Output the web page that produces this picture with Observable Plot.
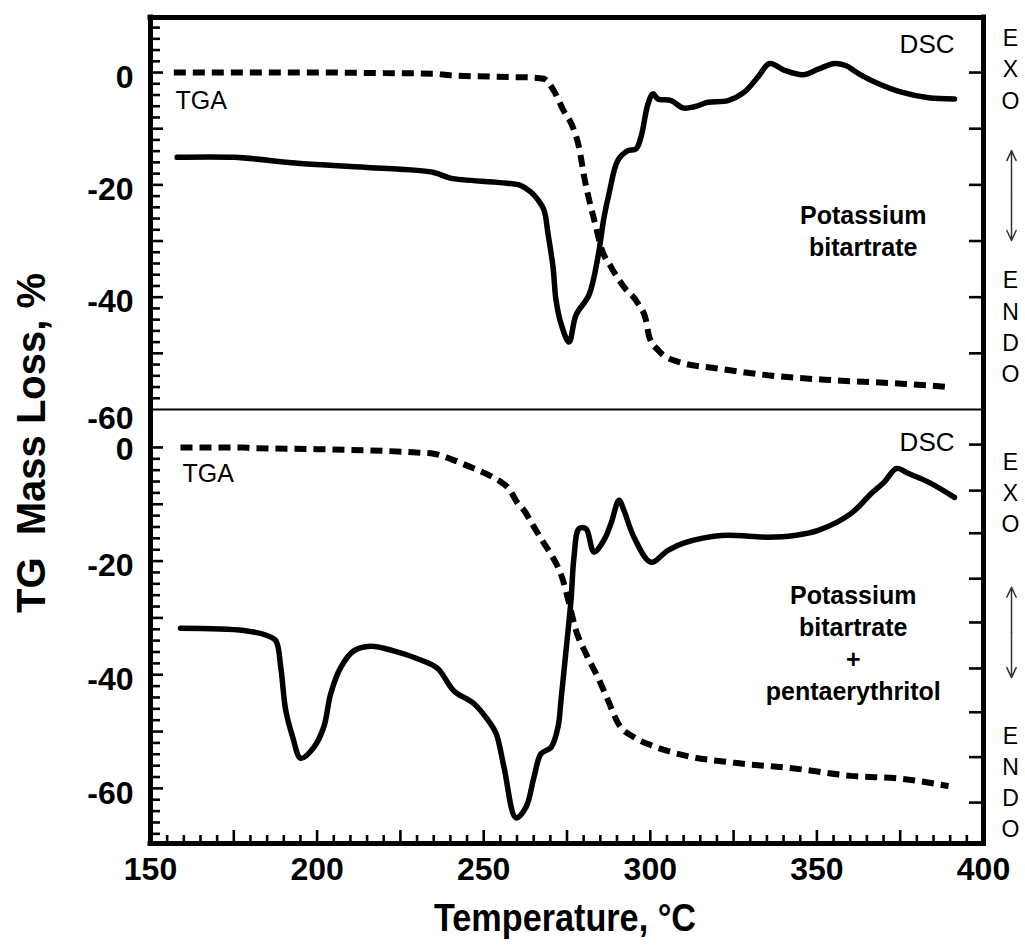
<!DOCTYPE html>
<html>
<head>
<meta charset="utf-8">
<script src="https://cdn.jsdelivr.net/npm/d3@7"></script>
<script src="https://cdn.jsdelivr.net/npm/@observablehq/plot@0.6"></script>
<style>
  html, body { margin: 0; padding: 0; background: #fff; overflow: hidden; }
  #wrap { position: relative; width: 1025px; height: 952px; font-family: 'Liberation Sans', Arial, Helvetica, sans-serif; color: #000; }
  #wrap svg { display: block; }
  #ylab { position: absolute; left: 31px; top: 443px; transform: translate(-50%, -50%) rotate(-90deg);
          font-size: 40px; font-weight: bold; line-height: 40px; white-space: pre; }
  #xlab { position: absolute; left: 565px; top: 898px; transform: translateX(-50%) scaleX(0.9);
          font-size: 38px; font-weight: bold; line-height: 40px; white-space: pre; }
</style>
</head>
<body>
<div id="wrap">
  <div id="top"></div>
  <div id="bot"></div>
  <div id="ylab">TG  Mass Loss, %</div>
  <div id="xlab">Temperature, °C</div>
</div>
<script>
// ---------- data ----------
const xDomain = [150, 400];
const topDomain = [-60, 9.8];
const botDomain = [-69.7, 6.5];

// Top panel: Potassium bitartrate
const topTgaT = [157, 180, 200, 220, 235, 240, 258, 265, 268, 271, 274, 276.8, 278.6, 280.2, 281.7, 283.7, 285.2, 288.2, 292.1, 296.3, 298.7, 299.7, 302.3, 308.3, 320.3, 335.3, 355.3, 375.4, 390];
const topTgaV = [0, 0, 0, -0.1, -0.2, -0.5, -0.8, -0.9, -1.1, -3.2, -6.8, -9.8, -13.3, -18.7, -22.8, -27.5, -31.1, -34.6, -38.2, -41.1, -44.1, -47.1, -49.4, -51.5, -52.7, -53.9, -54.8, -55.4, -56];

const topDscT = [158, 175, 195, 215, 235, 240, 255, 261, 264, 266.2, 268.1, 269.3, 270.8, 271.7, 273.2, 275.6, 277.7, 281.6, 284.3, 286.1, 287.6, 290.3, 293.3, 295.7, 297.2, 299.3, 300.8, 302.3, 306.3, 309.8, 313.2, 317.3, 323.3, 328.2, 332.3, 335.8, 340.3, 345.9, 350.4, 355.3, 358.4, 363.4, 368.5, 375.4, 383.5, 391.3];
const topDscV = [-15.1, -15.1, -16.2, -16.9, -17.8, -18.8, -19.6, -20.1, -21.2, -22.6, -24.5, -28.7, -34.6, -40.5, -44.7, -48, -43.2, -39.6, -32.8, -25.8, -21.6, -15.6, -13.9, -13.6, -11.5, -5.6, -3.8, -4.7, -5, -6.3, -6.1, -5.3, -5, -3.5, -0.8, 1.6, 0.4, -0.4, 0.6, 1.6, 1.3, -0.5, -2, -3.5, -4.5, -4.7];

// Bottom panel: Potassium bitartrate + pentaerythritol
const botTgaT = [159, 178, 180, 200, 230, 235, 240, 245, 252, 255, 257.5, 260.3, 262, 265, 268, 270.2, 273.8, 275.6, 277.7, 280.7, 284.3, 287.3, 290.3, 295.1, 300.2, 310.2, 325.2, 343.2, 360.3, 375.4, 389.5];
const botTgaV = [0, 0, -0.1, -0.3, -0.9, -1.1, -2, -3.2, -5, -6, -7.2, -9.9, -11, -13.9, -16.8, -18.8, -23.4, -27.4, -32.2, -36.3, -40.5, -44.5, -48.5, -51, -52.4, -54.2, -55.5, -56.5, -57.8, -58.3, -59.6];

const botDscT = [159, 178, 185, 187.6, 189.1, 190.6, 192.7, 195.1, 199, 202, 204.1, 207.1, 211, 216.1, 223, 231.1, 236.2, 241, 247.1, 251.3, 253.7, 256.1, 259.7, 262.7, 265.1, 267.2, 270.2, 272.3, 273.2, 274.7, 276.2, 277.1, 278.6, 280.7, 283.1, 286.1, 288.2, 290.6, 292.1, 295.1, 300.2, 305.3, 310.2, 321.3, 335.3, 343.2, 350.4, 360.3, 366.3, 370.2, 373.9, 377.5, 383.5, 391.3];
const botDscV = [-31.8, -32.2, -33.1, -34, -38.7, -46.3, -51, -54.7, -52.8, -49.2, -43.3, -38.7, -35.8, -35, -35.8, -37.4, -38.9, -42.8, -45.1, -48, -50.3, -56.3, -65.2, -63.3, -58, -53.9, -52.8, -49.2, -44.5, -35.8, -26.9, -19.3, -14.3, -14.3, -18.4, -16.3, -13.4, -9.3, -11.1, -15.8, -20.2, -18.1, -16.8, -15.5, -15.8, -15.5, -14.6, -11.6, -8.1, -6.1, -3.7, -4.6, -6.1, -8.8];

// Tick labels / tick positions
const xLabels = [150, 200, 250, 300, 350, 400];
const xMajor = [175, 200, 225, 250, 275, 300, 325, 350, 375];
const topYLabels = [0, -20, -40];
const topYLabelLow = [-60];
const botYLabels = [-20, -40, -60];
const botYLabelHigh = [0];
const topMajorY = [0, -10, -20, -30, -40, -50];
const botMajorY = [0, -10, -20, -30, -40, -50, -60];
const topRightTicks = [0, -10, -20, -30, -40, -50];
const botRightTicks = [0.5, -7.6, -15.1, -23.1, -30.8, -38.9, -46.6, -54.5, -62.5];

// ---------- build ----------
const zip = (T, V) => T.map((t, i) => ({T: t, v: V[i]}));
const topTga = zip(topTgaT, topTgaV);
const topDsc = zip(topDscT, topDscV);
const botTga = zip(botTgaT, botTgaV);
const botDsc = zip(botDscT, botDscV);

const xMinor = d3.range(155, 400, 5).filter(v => v % 25 !== 0);
const topMinorY = d3.range(8, -60, -2).filter(v => v % 10 !== 0);
const botMinorY = d3.range(0, -70, -2).filter(v => v % 10 !== 0);

const hyphen = d => String(d); // reference uses a plain hyphen for negatives
const font = "'Liberation Sans', Arial, Helvetica, sans-serif";
const style = {fontFamily: font, background: "white", color: "black", overflow: "visible"};
const tgaStyle = {x: "T", y: "v", stroke: "black", strokeWidth: 6, strokeDasharray: "12,7", strokeLinecap: "butt", strokeLinejoin: "miter", curve: "monotone-x"};
const dscStyle = {x: "T", y: "v", stroke: "black", strokeWidth: 5.5, strokeLinejoin: "round", strokeLinecap: "round", curve: "catmull-rom"};
const tickStyle = {fill: "none", label: null, strokeWidth: 2.6};
const labelStyle = {tickSize: 0, tickPadding: 17, fontSize: 32, fontWeight: "bold", label: null, tickFormat: hyphen};
const letters = (y) => Plot.text(["E\nX\nO"], {x: xDomain[1], y, dx: 27, text: d => d, fontSize: 23, lineHeight: 1.36});
const lettersEndo = (y) => Plot.text(["E\nN\nD\nO"], {x: xDomain[1], y, dx: 27, text: d => d, fontSize: 23, lineHeight: 1.36});
const dblArrow = (yTop, yBot) => {
  const mid = (yTop + yBot) / 2;
  const o = {x1: xDomain[1], x2: xDomain[1], dx: 28, stroke: "#333", strokeWidth: 1.5, headLength: 11, headAngle: 50};
  return [
    Plot.arrow([0], {...o, y1: mid, y2: yTop}),
    Plot.arrow([0], {...o, y1: mid, y2: yBot})
  ];
};

const topPlot = Plot.plot({
  width: 1025, height: 410,
  marginLeft: 150, marginRight: 42, marginTop: 17, marginBottom: 1,
  style,
  x: {domain: xDomain, axis: null},
  y: {domain: topDomain, label: null},
  marks: [
    Plot.line(topTga, tgaStyle),
    Plot.line(topDsc, dscStyle),
    Plot.axisY({anchor: "left", ticks: topMinorY, tickSize: -10, ...tickStyle}),
    Plot.axisY({anchor: "left", ticks: topMajorY, tickSize: -13, ...tickStyle}),
    Plot.axisY({anchor: "right", ticks: topRightTicks, tickSize: -15, ...tickStyle}),
    Plot.axisY({anchor: "left", ticks: topYLabels, ...labelStyle, dy: 5}),
    Plot.axisY({anchor: "left", ticks: topYLabelLow, ...labelStyle, dy: 9}),
    Plot.ruleX(xDomain, {strokeWidth: 5, strokeLinecap: "square"}),
    Plot.ruleY([topDomain[1]], {strokeWidth: 5, strokeLinecap: "square"}),
    Plot.ruleY([topDomain[0]], {strokeWidth: 2}),
    Plot.text(["TGA"], {x: 157.5, y: -5.1, text: d => d, textAnchor: "start", fontSize: 25}),
    Plot.text(["DSC"], {x: 391.3, y: 5.0, text: d => d, textAnchor: "end", fontSize: 26}),
    Plot.text(["Potassium\nbitartrate"], {x: 363.9, y: -28, text: d => d, fontSize: 25, fontWeight: "bold", lineHeight: 1.28}),
    letters(0.9),
    lettersEndo(-45),
    ...dblArrow(-13.9, -29.9)
  ]
});

const botPlot = Plot.plot({
  width: 1025, height: 485,
  marginLeft: 150, marginRight: 42, marginTop: 0, marginBottom: 52,
  style,
  x: {domain: xDomain, label: null},
  y: {domain: botDomain, label: null},
  marks: [
    Plot.line(botTga, tgaStyle),
    Plot.line(botDsc, dscStyle),
    Plot.axisY({anchor: "left", ticks: botMinorY, tickSize: -10, ...tickStyle}),
    Plot.axisY({anchor: "left", ticks: botMajorY, tickSize: -13, ...tickStyle}),
    Plot.axisY({anchor: "right", ticks: botRightTicks, tickSize: -15, ...tickStyle}),
    Plot.axisY({anchor: "left", ticks: botYLabels, ...labelStyle, dy: 5}),
    Plot.axisY({anchor: "left", ticks: botYLabelHigh, ...labelStyle, dy: 2}),
    Plot.axisX({anchor: "bottom", ticks: xMinor, tickSize: -8, ...tickStyle}),
    Plot.axisX({anchor: "bottom", ticks: xMajor, tickSize: -13, ...tickStyle}),
    Plot.axisX({anchor: "bottom", ticks: xLabels, tickSize: 0, tickPadding: 14, fontSize: 32, fontWeight: "bold", label: null, tickFormat: hyphen}),
    Plot.ruleX(xDomain, {strokeWidth: 5, strokeLinecap: "square"}),
    Plot.ruleY([botDomain[0]], {strokeWidth: 5, strokeLinecap: "square"}),
    Plot.text(["TGA"], {x: 159.6, y: -4.75, text: d => d, textAnchor: "start", fontSize: 25}),
    Plot.text(["DSC"], {x: 391.3, y: 0.9, text: d => d, textAnchor: "end", fontSize: 26}),
    Plot.text(["Potassium\nbitartrate\n+\npentaerythritol"], {x: 360.9, y: -34.2, text: d => d, fontSize: 25, fontWeight: "bold", lineHeight: 1.28}),
    letters(-7.7),
    lettersEndo(-58.6),
    ...dblArrow(-24.6, -40.5)
  ]
});

document.getElementById("top").appendChild(topPlot);
document.getElementById("bot").appendChild(botPlot);
</script>
</body>
</html>
